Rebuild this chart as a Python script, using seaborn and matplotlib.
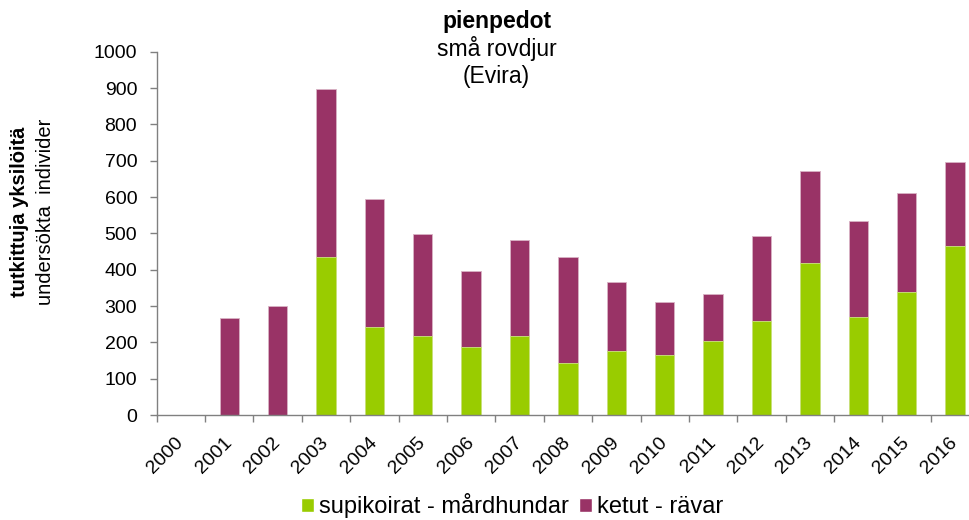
import matplotlib

matplotlib.use("Agg")

import matplotlib.pyplot as plt
import matplotlib.transforms as mtransforms
import numpy as np
import pandas as pd
import seaborn as sns
from matplotlib.patches import Patch

years = [str(y) for y in range(2000, 2017)]
supikoirat = [0, 0, 0, 436, 241, 217, 188, 217, 143, 177, 165, 204, 259, 418, 270, 338, 466]
ketut = [0, 268, 300, 462, 354, 281, 209, 264, 291, 188, 145, 128, 233, 254, 264, 272, 230]

green = "#99CC00"
purple = "#993366"

sns.set_style("white")
plt.rcParams["font.family"] = ["Liberation Sans", "DejaVu Sans"]
plt.rcParams["text.color"] = "black"

df = pd.DataFrame({"year": years, "supikoirat": supikoirat, "ketut": ketut})
df["total"] = df["supikoirat"] + df["ketut"]

fig = plt.figure(figsize=(9.7, 5.2), dpi=100)
ax = fig.add_axes([0.1615, 0.2019, 0.848, 0.6987])

# purple total first, green stacked part drawn over it
sns.barplot(data=df, x="year", y="total", color=purple, width=0.4,
            saturation=1, edgecolor="#d9b3c4", linewidth=0.6, ax=ax)
sns.barplot(data=df, x="year", y="supikoirat", color=green, width=0.4,
            saturation=1, edgecolor="#cce680", linewidth=0.6, ax=ax)

ax.set_xlim(-0.5, len(years) - 0.5)
ax.set_ylim(0, 1000)
ax.set_yticks(np.arange(0, 1001, 100))
ax.tick_params(axis="y", labelsize=14, length=5, width=1, color="#808080",
               labelcolor="black", direction="out", left=True, pad=9)
ax.tick_params(axis="x", which="major", labelsize=14, length=0, pad=11,
               labelcolor="black")
ax.set_xticks(np.arange(-0.5, len(years), 1.0), minor=True)
ax.tick_params(axis="x", which="minor", length=5, width=1, color="#808080",
               direction="out", bottom=True)
shift = mtransforms.ScaledTranslation(-6 / 100, -4 / 100, fig.dpi_scale_trans)
for label in ax.get_xticklabels():
    label.set_rotation(45)
    label.set_ha("right")
    label.set_rotation_mode("anchor")
    label.set_transform(label.get_transform() + shift)

for side in ["top", "right"]:
    ax.spines[side].set_visible(False)
for side in ["left", "bottom"]:
    ax.spines[side].set_color("#808080")
    ax.spines[side].set_linewidth(1)

ax.set_xlabel("")
ax.set_ylabel("")

fig.text(0.02, 0.592, "tutkittuja yksilöitä", rotation=90, fontsize=14.5,
         fontweight="bold", ha="center", va="center")
fig.text(0.047, 0.592, "undersökta  individer", rotation=90, fontsize=14.5,
         ha="center", va="center")

fig.text(0.512, 0.946, "pienpedot", fontsize=16.5, fontweight="bold", ha="center", va="baseline")
fig.text(0.512, 0.892, "små rovdjur", fontsize=16.5, ha="center", va="baseline")
fig.text(0.512, 0.840, "(Evira)", fontsize=16.5, ha="center", va="baseline")

handles = [Patch(facecolor=green, label="supikoirat - mårdhundar"),
           Patch(facecolor=purple, label="ketut - rävar")]
fig.legend(handles=handles, loc="center", bbox_to_anchor=(0.528, 0.027), ncol=2,
           frameon=False, fontsize=17, handlelength=0.55, handleheight=0.55,
           handletextpad=0.2, columnspacing=0.45, borderpad=0, borderaxespad=0)

fig.savefig("out.png", dpi=100)
